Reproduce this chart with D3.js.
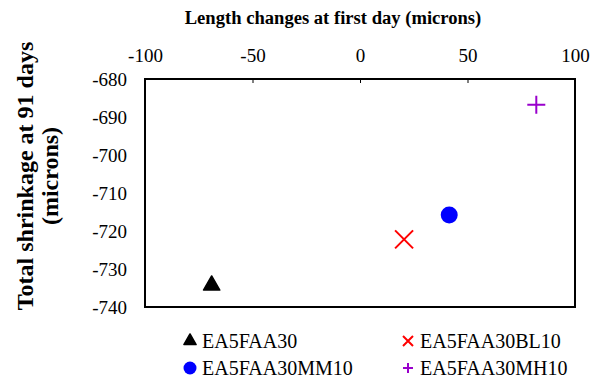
<!DOCTYPE html>
<html>
<head>
<meta charset="utf-8">
<script src="https://cdn.jsdelivr.net/npm/d3@7"></script>
<style>
  body { margin: 0; background: #fff; }
</style>
</head>
<body>
<div id="vis"></div>
<script>
const FRAME_WIDTH = 594;
const FRAME_HEIGHT = 380;
const MARGINS = {left: 145, right: 19, top: 79, bottom: 73};
const SERIF = '"Liberation Serif", "DejaVu Serif", serif';

// data
const series = ['EA5FAA30', 'EA5FAA30BL10', 'EA5FAA30MM10', 'EA5FAA30MH10'];
const firstDay = [-69, 20.5, 41.5, 82];
const shrinkage = [-734.3, -722.2, -715.8, -686.8];
const colors = ['#000000', '#FF0000', '#0000FF', '#9900CC'];
const shapes = ['triangle', 'x', 'circle', 'plus'];
const xTicks = [-100, -50, 0, 50, 100];
const yTicks = [-680, -690, -700, -710, -720, -730, -740];

const VIS_WIDTH = FRAME_WIDTH - MARGINS.left - MARGINS.right;
const VIS_HEIGHT = FRAME_HEIGHT - MARGINS.top - MARGINS.bottom;

const svg = d3.select('#vis').append('svg')
    .attr('width', FRAME_WIDTH)
    .attr('height', FRAME_HEIGHT);

const X_SCALE = d3.scaleLinear().domain([-100, 100]).range([MARGINS.left, MARGINS.left + VIS_WIDTH]);
const Y_SCALE = d3.scaleLinear().domain([-740, -680]).range([MARGINS.top + VIS_HEIGHT, MARGINS.top]);

// top axis, ticks pointing into the plot
const xAxis = svg.append('g')
    .attr('transform', 'translate(0,' + MARGINS.top + ')')
    .call(d3.axisTop(X_SCALE).tickValues(xTicks).tickFormat(d => String(d))
        .tickSizeInner(-4).tickSizeOuter(0).tickPadding(17));
xAxis.select('.domain').remove();
xAxis.selectAll('line').attr('stroke', '#000');
xAxis.selectAll('text').style('font-size', '19px').style('font-family', SERIF).attr('fill', '#000');

// left axis labels only
const yAxis = svg.append('g')
    .attr('transform', 'translate(' + MARGINS.left + ',0)')
    .call(d3.axisLeft(Y_SCALE).tickValues(yTicks).tickFormat(d => String(d)).tickSize(0).tickPadding(18));
yAxis.select('.domain').remove();
yAxis.selectAll('text').style('font-size', '19px').style('font-family', SERIF).attr('fill', '#000');

// plot box
svg.append('rect')
    .attr('x', MARGINS.left)
    .attr('y', MARGINS.top)
    .attr('width', VIS_WIDTH)
    .attr('height', VIS_HEIGHT)
    .attr('fill', 'none')
    .attr('stroke', '#000')
    .attr('stroke-width', 2);

// titles
svg.append('text')
    .attr('x', 333).attr('y', 24)
    .attr('text-anchor', 'middle')
    .style('font-family', SERIF)
    .style('font-size', '18.6px').style('font-weight', 'bold')
    .text('Length changes at first day (microns)');

const yTitle = svg.append('text')
    .attr('transform', 'translate(0,176) rotate(-90)')
    .attr('text-anchor', 'middle')
    .style('font-family', SERIF)
    .style('font-size', '24px').style('font-weight', 'bold');
yTitle.append('tspan').attr('x', 0).attr('y', 33).text('Total shrinkage at 91 days');
yTitle.append('tspan').attr('x', 0).attr('y', 58).text('(microns)');

function drawMarker(g, shape, color, size) {
    if (shape === 'triangle') {
        g.append('path').attr('d', d3.symbol(d3.symbolTriangle, size * size * 0.45)())
            .attr('fill', color).attr('stroke', color).attr('stroke-linejoin', 'round').attr('stroke-width', 1.5);
    } else if (shape === 'circle') {
        g.append('circle').attr('r', size / 2).attr('fill', color);
    } else if (shape === 'x') {
        const h = size / 2;
        g.append('path').attr('d', 'M' + (-h) + ',' + (-h) + 'L' + h + ',' + h + 'M' + (-h) + ',' + h + 'L' + h + ',' + (-h))
            .attr('stroke', color).attr('stroke-width', 2).attr('fill', 'none');
    } else {
        const h = size / 2;
        g.append('path').attr('d', 'M' + (-h) + ',0L' + h + ',0M0,' + (-h) + 'L0,' + h)
            .attr('stroke', color).attr('stroke-width', 2).attr('fill', 'none');
    }
}

const markerSize = [16, 18, 17, 18];
series.forEach((s, i) => {
    const g = svg.append('g')
        .attr('transform', 'translate(' + X_SCALE(firstDay[i]) + ',' + Y_SCALE(shrinkage[i]) + ')');
    drawMarker(g, shapes[i], colors[i], markerSize[i]);
});

// legend
const legendX = [190, 408];
const legendY = [341, 368];
const legendSize = [12, 10, 13, 10];
series.forEach((s, i) => {
    const col = i % 2, row = Math.floor(i / 2);
    const g = svg.append('g')
        .attr('transform', 'translate(' + legendX[col] + ',' + legendY[row] + ')');
    drawMarker(g, shapes[i], colors[i], legendSize[i]);
    g.append('text')
        .attr('x', 12).attr('y', 6.5)
        .style('font-family', SERIF)
        .style('font-size', '20px')
        .attr('fill', '#000')
        .text(s);
});
</script>
</body>
</html>
